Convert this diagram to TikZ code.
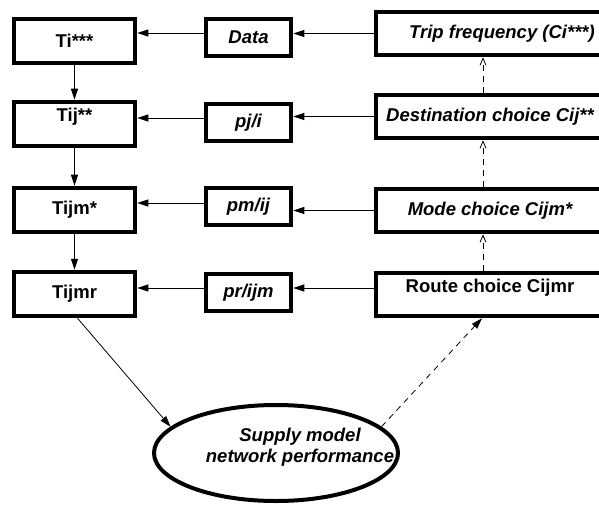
\documentclass[tikz,border=0pt]{standalone}
\usepackage{fontspec}
\setmainfont{Liberation Sans}
\usetikzlibrary{arrows.meta,shapes.geometric}

\begin{document}
\begin{tikzpicture}[x=1pt,y=-1pt,
  font=\fontsize{18.5}{21}\selectfont\bfseries,
  it/.style={font=\fontsize{18.5}{21}\selectfont\bfseries\itshape},
  box/.style={draw,line width=4.5pt,rectangle,inner sep=0pt},
  lbox/.style={box,minimum width=121pt,minimum height=44pt},
  mbox/.style={box,it,minimum width=85pt,minimum height=37pt},
  rbox/.style={box,minimum width=228pt,minimum height=43pt},
  arr/.style={-{Triangle[length=11pt,width=7pt]},line width=0.8pt},
  darr/.style={line width=0.8pt,dash pattern=on 6pt off 5pt,-{Straight Barb[length=7pt,width=6pt]}}]

\useasboundingbox (0,0) rectangle (599,505);

\clip (0,0) rectangle (599,505);

\node[lbox] (ti) at (74.5,41) {Ti***};

\node[lbox,text depth=19pt] (tij) at (74.5,124) {Tij**};

\node[lbox] (tijm) at (74.5,210) {Tijm*};

\node[lbox] (tijmr) at (74.5,294) {Tijmr};


\node[mbox] (data) at (248.5,37.5) {Data};

\node[mbox] (pj) at (248.5,122.5) {pj/i};

\node[mbox] (pm) at (248.5,206.5) {pm/ij};

\node[mbox] (pr) at (248.5,292.5) {pr/ijm};


\node[rbox,it] (trip) at (490,33.5) {\hspace*{24pt}Trip frequency (Ci***)};

\node[rbox,it] (dest) at (490,116.5) {Destination choice Cij**};

\node[rbox,it] (mode) at (490,210.5) {Mode choice Cijm*};

\node[rbox,text depth=18pt] (route) at (490,294.5) {Route choice Cijmr};


\node[draw,ellipse,line width=4pt,minimum width=244pt,minimum height=96pt] (supply) at (276,453) {};

\node[it,align=center] (supplytext) at ([xshift=24pt,yshift=6pt]supply.center) {Supply model\\network performance};


\draw[arr] (trip.west) -- (trip.west -| data.east);

\draw[arr] (dest.west) -- (dest.west -| pj.east);

\draw[arr] (mode.west) -- (mode.west -| pm.east);

\draw[arr] ([yshift=6.5pt]route.west) -- ([yshift=6.5pt]route.west -| pr.east);


\draw[arr] ([yshift=4.5pt]data.west) -- ([yshift=4.5pt]data.west -| ti.east);

\draw[arr] ([yshift=4.5pt]pj.west) -- ([yshift=4.5pt]pj.west -| tij.east);

\draw[arr] ([yshift=3.5pt]pm.west) -- ([yshift=3.5pt]pm.west -| tijm.east);

\draw[arr] ([yshift=4.5pt]pr.west) -- ([yshift=4.5pt]pr.west -| tijmr.east);


\draw[arr] (ti) -- (tij);

\draw[arr] (tij) -- (tijm);

\draw[arr] (tijm) -- (tijmr);


\draw[darr] ([xshift=-7pt]dest.north) -- ([xshift=-7pt]trip.south);

\draw[darr] ([xshift=-7pt]mode.north) -- ([xshift=-7pt]dest.south);

\draw[darr] ([xshift=-7pt]route.north) -- ([xshift=-7pt]mode.south);


\draw[arr] ([xshift=3pt]tijmr.south) -- (supply.166);

\draw[darr,-{Triangle[length=11pt,width=7pt]}] (supply.14) -- ([xshift=-8pt]route.south);

\end{tikzpicture}
\end{document}
